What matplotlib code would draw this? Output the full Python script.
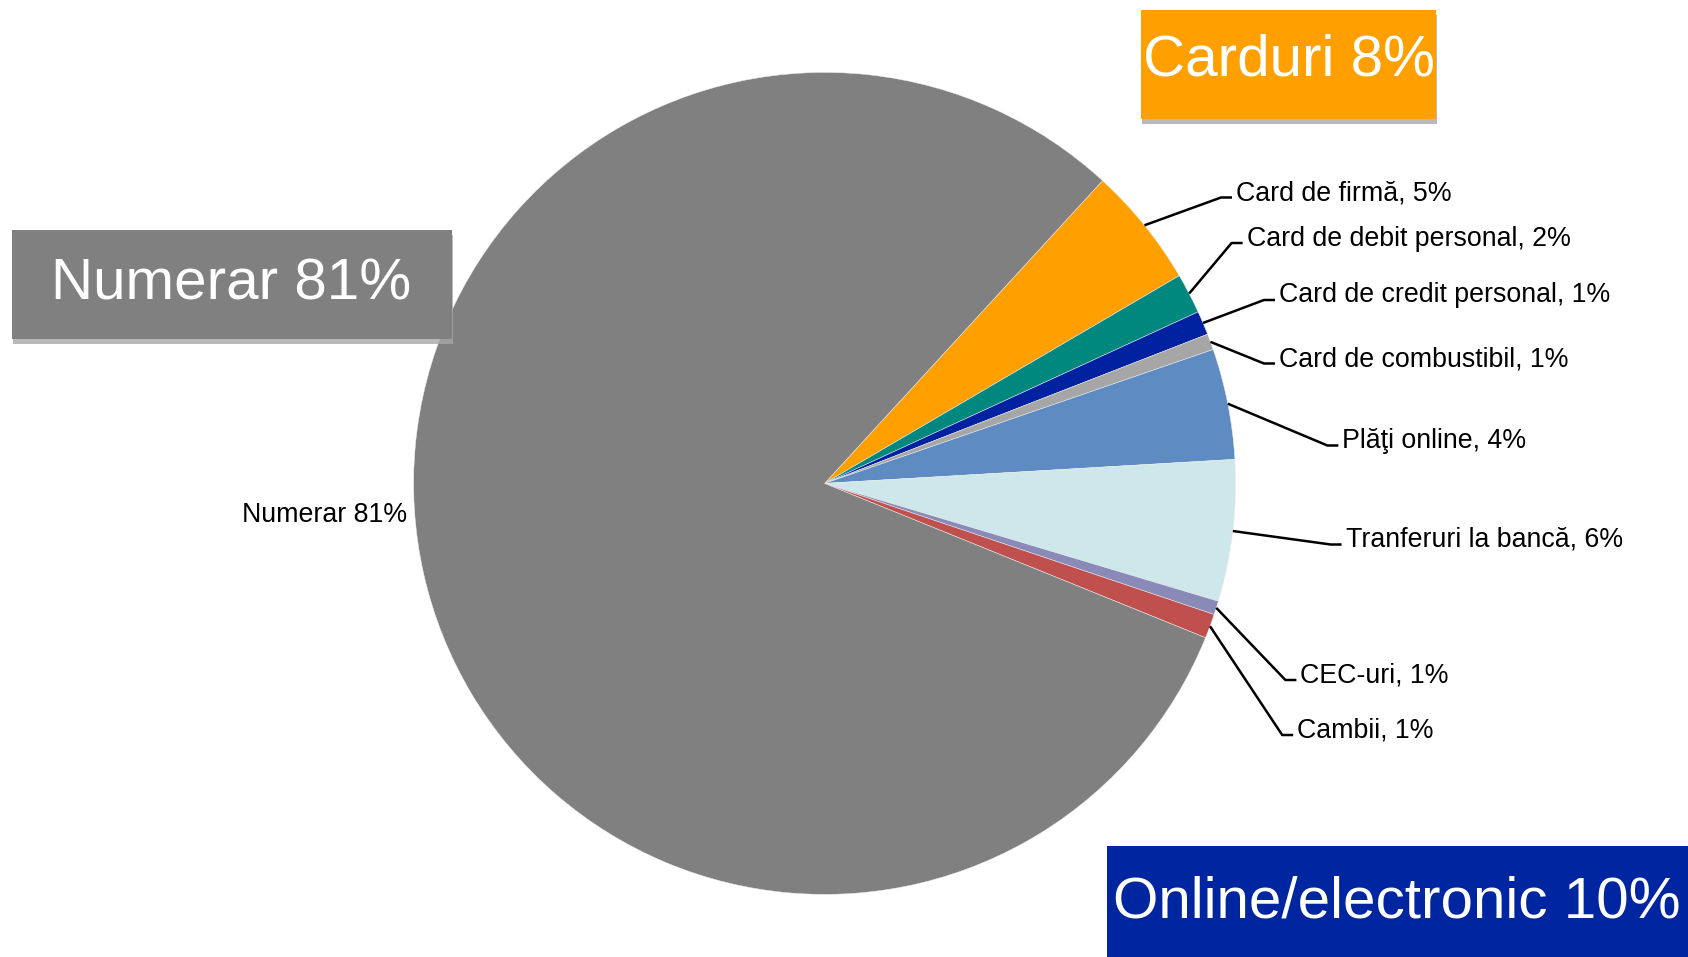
import matplotlib
matplotlib.use("Agg")
import matplotlib.pyplot as plt
from matplotlib.patches import Rectangle
import numpy as np

plt.rcParams['font.family'] = ['Liberation Sans', 'DejaVu Sans']

# ---- data ----
categories = ["Card de firmă", "Card de debit personal", "Card de credit personal",
              "Card de combustibil", "Plăţi online", "Tranferuri la bancă",
              "CEC-uri", "Cambii", "Numerar"]
values = [4.75, 1.58, 0.94, 0.63, 4.35, 5.56, 0.54, 0.96, 80.7]
label_pct = ["5%", "2%", "1%", "1%", "4%", "6%", "1%", "1%", "81%"]
colors = ["#FFA000", "#00887F", "#0022A0", "#A6A6A6", "#5E8BC2",
          "#CDE7EA", "#8A8AB8", "#C0504D", "#808080"]
group_titles = ["Numerar 81%", "Carduri 8%", "Online/electronic 10%"]
group_colors = ["#808080", "#FFA000", "#0025A0"]

W, H = 1688, 957
fig = plt.figure(figsize=(W / 100, H / 100), dpi=100)
ax = fig.add_axes([0, 0, 1, 1])

cx, cy, R = 824.6, H - 483.4, 411
wedges, _ = ax.pie(values, colors=colors, startangle=47.45, counterclock=False,
                   center=(cx, cy), radius=R,
                   wedgeprops=dict(edgecolor="#EEEEEE", linewidth=0.35))
ax.set_xlim(0, W)
ax.set_ylim(0, H)
ax.set_aspect("equal")
ax.axis("off")

# label positions (left x of text, vertical centre), in pixel coordinates from top
label_pos = [(1236, 190.5), (1246.6, 236), (1279, 293), (1279, 356.5),
             (1342.4, 438.5), (1345.6, 537.5), (1300.4, 673), (1297.2, 728)]
fs = 19.3
for w, name, pct, (tx, ty) in zip(wedges[:-1], categories[:-1], label_pct[:-1], label_pos):
    ang = np.deg2rad((w.theta1 + w.theta2) / 2)
    sx, sy = cx + R * np.cos(ang), cy + R * np.sin(ang)
    ly = H - (ty + 7)
    ax.plot([sx, tx - 15, tx - 4], [sy, ly, ly], color="black", lw=1.8,
            solid_capstyle="butt")
    ax.text(tx, H - (ty + 9.5), f"{name}, {pct}", fontsize=fs, ha="left",
            va="baseline", color="black")

# Numerar data label
ax.text(407, H - 521.5, f"{categories[-1]} {label_pct[-1]}", fontsize=fs,
        ha="right", va="baseline", color="black")

# group boxes: (x0, y0_top, x1, y1_bottom), text centre x, baseline y
boxes = [((11.7, 230, 451.7, 339.3), 231.6, 300),
         ((1140.7, 10, 1436, 119.3), 1289, 76),
         ((1107, 846, 1700, 970), 1397, 917)]
for (b, tx, tb), title, col in zip(boxes, group_titles, group_colors):
    x0, y0, x1, y1 = b
    if title != group_titles[2]:
        ax.add_patch(Rectangle((x0 + 1, H - y1 - 5), x1 - x0, y1 - y0,
                               facecolor="#A8A8A8", edgecolor="none", alpha=0.8,
                               zorder=4))
    ax.add_patch(Rectangle((x0, H - y1), x1 - x0, y1 - y0, facecolor=col,
                           edgecolor="none", zorder=5))
    ax.text(tx, H - tb, title, fontsize=42, ha="center", va="baseline",
            color="white", zorder=6)

fig.savefig("out.png", dpi=100)
